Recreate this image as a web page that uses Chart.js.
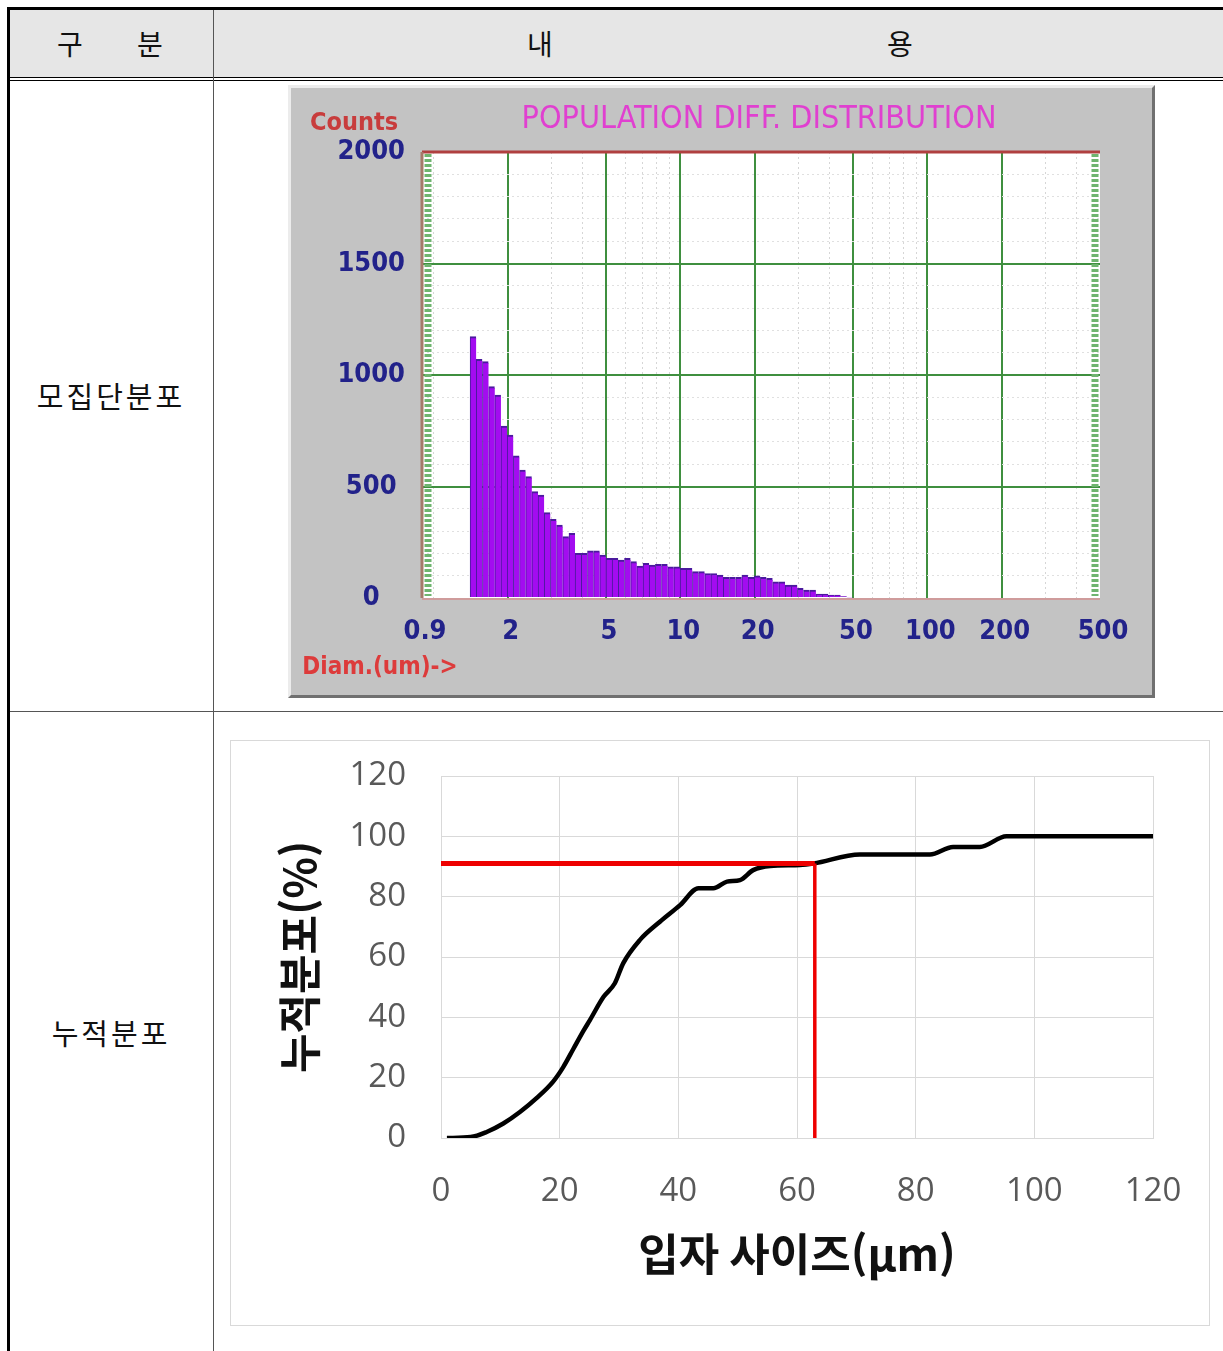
<!DOCTYPE html>
<html lang="ko">
<head>
<meta charset="UTF-8">
<title>입자 크기 분포</title>
<script src="https://cdn.jsdelivr.net/npm/chart.js@4"></script>
<style>
  body { margin: 0; width: 1223px; height: 1351px; overflow: hidden; background: #fff; position: relative; font-family: 'Noto Sans CJK KR', sans-serif; }
  .ln { position: absolute; background: #000; }
  .txt { position: absolute; transform: translate(-50%, -50%); font-size: 28px; color: #111; white-space: nowrap; }
  .narrow { position: absolute; transform: translate(-50%, -50%); white-space: nowrap; font-family: 'Liberation Sans Narrow', 'DejaVu Sans Condensed', sans-serif; z-index: 2; }
  #panel1 { position: absolute; left: 288px; top: 85px; width: 861px; height: 607px; background: #c3c3c3; border: 3px solid; border-color: #ececec #707070 #707070 #ececec; }
  #box2 { position: absolute; left: 230px; top: 740px; width: 978px; height: 584px; border: 1px solid #d9d9d9; }
</style>
</head>
<body>
  <!-- table frame -->
  <div class="ln" style="left:10px;top:10px;width:1213px;height:67px;background:#e6e6e6"></div>
  <div class="ln" style="left:7px;top:7px;width:3px;height:1344px"></div>
  <div class="ln" style="left:7px;top:7px;width:1216px;height:3px"></div>
  <div class="ln" style="left:10px;top:77px;width:1213px;height:1px"></div>
  <div class="ln" style="left:10px;top:80px;width:1213px;height:1px"></div>
  <div class="ln" style="left:213px;top:10px;width:1px;height:1341px;background:#555"></div>
  <div class="ln" style="left:10px;top:711px;width:1213px;height:1px;background:#555"></div>

  <div class="txt" style="left:70px;top:43px">구</div>
  <div class="txt" style="left:150px;top:43px">분</div>
  <div class="txt" style="left:540px;top:43px">내</div>
  <div class="txt" style="left:900px;top:43px">용</div>
  <div class="txt" style="left:111px;top:395px;font-size:29px;letter-spacing:3px">모집단분포</div>
  <div class="txt" style="left:111px;top:1032px;font-size:29px;letter-spacing:3px">누적분포</div>

  <div id="panel1"><canvas id="popChart"></canvas></div>
  <div class="narrow" style="left:759px;top:117px;font-size:32px;color:#e040d0">POPULATION DIFF. DISTRIBUTION</div>
  <div class="narrow" style="left:354px;top:121px;font-size:25px;font-weight:bold;color:#c83c3c">Counts</div>
  <div class="narrow" style="left:380px;top:666px;font-size:24px;font-weight:bold;color:#dd3b3b">Diam.(um)-&gt;</div>

  <div id="box2"><canvas id="cumChart"></canvas></div>

<script>
// 모집단분포 (population differential distribution)
const diameters = [1.45, 1.536, 1.627, 1.724, 1.826, 1.934, 2.049, 2.170, 2.299, 2.435,
  2.579, 2.732, 2.894, 3.065, 3.247, 3.440, 3.643, 3.859, 4.088, 4.331,
  4.585, 4.857, 5.145, 5.450, 5.773, 6.115, 6.478, 6.862, 7.269, 7.700,
  8.154, 8.637, 9.149, 9.692, 10.27, 10.87, 11.52, 12.20, 12.93, 13.69,
  14.50, 15.36, 16.27, 17.24, 18.26, 19.34, 20.49, 21.70, 22.99, 24.35,
  25.79, 27.32, 28.94, 30.65, 32.47, 34.40, 36.43, 38.59, 40.88, 43.31,
  45.85, 48.57];
const counts = [1172, 1070, 1060, 948, 910, 771, 731, 637, 574, 544,
  477, 462, 383, 353, 327, 275, 290, 200, 200, 212,
  212, 193, 178, 178, 170, 178, 163, 143, 155, 148,
  151, 151, 140, 140, 133, 133, 118, 118, 110, 110,
  103, 93, 93, 93, 103, 93, 99, 93, 88, 73,
  73, 58, 58, 43, 36, 36, 18, 18, 13, 13,
  6, 3];
const xTickLabels = [0.9, 2, 5, 10, 20, 50, 100, 200, 500];
const xMajorGrid = [2, 5, 10, 20, 50, 100, 200];
const xGridValues = [0.9, 1, 2, 3, 4, 5, 6, 7, 8, 9, 10, 20, 30, 40, 50, 60, 70, 80, 90, 100, 200, 300, 400, 500];
const countMax = 2000;

// 누적분포 (cumulative distribution)
const sizeUm = [1, 5, 7.7, 10.5, 13.3, 16.1, 18.9, 20.6, 22.3, 24, 25.1, 27.4, 29.3, 30.7, 33.5, 36.9,
  40.3, 43.4, 45.9, 48.2, 50.4, 52.6, 55.5, 60.5, 62.8, 70.6, 82.4, 86.3, 90.8, 95.3, 120];
const cumPct = [0, 0.3, 2, 4.8, 8.6, 13.2, 18.7, 23.5, 29.5, 35.5, 39.1, 46.8, 51.3, 57.9, 65.6, 71.7,
  77.2, 82.8, 82.8, 85, 85.5, 88.8, 90.2, 90.5, 91, 94, 94, 96.5, 96.5, 100, 100];
const d90Size = 63;
const d90Pct = 91;

const narrowFont = "'Liberation Sans Narrow', 'DejaVu Sans Condensed', sans-serif";

// white plot area, edge strips and frame lines of the analyser screen
const plotFrame = {
  id: 'plotFrame',
  beforeDraw(chart) {
    const { ctx, chartArea: a } = chart;
    ctx.save();
    ctx.fillStyle = '#ffffff';
    ctx.fillRect(a.left, a.top, a.right - a.left, a.bottom - a.top);
    ctx.restore();
  },
  beforeDatasetsDraw(chart) {
    const { ctx, chartArea: a } = chart;
    ctx.save();
    ctx.strokeStyle = '#6fb46f';
    ctx.lineWidth = 7;
    ctx.setLineDash([3, 2]);
    [a.left + 6, a.right - 5].forEach(x => {
      ctx.beginPath(); ctx.moveTo(x, a.top + 2); ctx.lineTo(x, a.bottom - 2); ctx.stroke();
    });
    ctx.setLineDash([]);
    ctx.lineWidth = 3;
    ctx.strokeStyle = '#b04040';
    ctx.beginPath(); ctx.moveTo(a.left, a.top); ctx.lineTo(a.right, a.top); ctx.stroke();
    ctx.strokeStyle = '#a57a6a';
    ctx.beginPath(); ctx.moveTo(a.left, a.top); ctx.lineTo(a.left, a.bottom); ctx.stroke();
    ctx.lineWidth = 2;
    ctx.strokeStyle = '#cf9c9c';
    ctx.beginPath(); ctx.moveTo(a.left, a.bottom + 1); ctx.lineTo(a.right, a.bottom + 1); ctx.stroke();
    ctx.restore();
  }
};

new Chart(document.getElementById('popChart'), {
  type: 'bar',
  data: {
    datasets: [{
      data: diameters.map((d, i) => ({ x: d, y: counts[i] })),
      backgroundColor: '#a30cf0',
      borderColor: '#4b1a9e',
      borderWidth: { top: 2, left: 1, right: 0, bottom: 0 },
      barPercentage: 1,
      categoryPercentage: 1
    }]
  },
  options: {
    responsive: true,
    maintainAspectRatio: false,
    animation: false,
    layout: { padding: { left: 31, right: 52, top: 64, bottom: 0 } },
    plugins: { legend: { display: false }, tooltip: { enabled: false } },
    scales: {
      x: {
        type: 'logarithmic',
        min: 0.9,
        max: 500,
        offset: false,
        afterBuildTicks: s => { s.ticks = xGridValues.map(v => ({ value: v })); },
        afterFit: s => { s.height = 97; },
        border: { display: false, dash: c => (c.tick && !xMajorGrid.includes(c.tick.value)) ? [2, 3] : [] },
        grid: {
          offset: false,
          drawTicks: false,
          color: c => {
            const v = c.tick.value;
            if (v === 0.9 || v === 500) return 'rgba(0,0,0,0)';
            return xMajorGrid.includes(v) ? '#3f8f3f' : '#d6d6d6';
          },
          lineWidth: c => xMajorGrid.includes(c.tick.value) ? 2 : 1
        },
        ticks: {
          autoSkip: false,
          maxRotation: 0,
          padding: 18,
          labelOffset: 3,
          color: '#22228a',
          font: { family: narrowFont, size: 27, weight: 'bold' },
          callback: v => xTickLabels.includes(v) ? String(v) : ''
        }
      },
      y: {
        min: 0,
        max: countMax,
        afterFit: s => { s.width = 100; },
        border: { display: false, dash: c => (c.tick && c.tick.value % 500 !== 0) ? [2, 3] : [] },
        grid: {
          drawTicks: false,
          color: c => {
            const v = c.tick.value;
            if (v === 0 || v === countMax) return 'rgba(0,0,0,0)';
            return v % 500 === 0 ? '#3f8f3f' : '#e0e0e0';
          },
          lineWidth: c => c.tick.value % 500 === 0 ? 2 : 1
        },
        ticks: {
          stepSize: 100,
          autoSkip: false,
          padding: 17,
          crossAlign: 'center',
          color: '#22228a',
          font: { family: narrowFont, size: 27, weight: 'bold' },
          callback: v => v % 500 === 0 ? String(v) : ''
        }
      }
    }
  },
  plugins: [plotFrame]
});

new Chart(document.getElementById('cumChart'), {
  type: 'line',
  data: {
    datasets: [
      {
        data: [{ x: 0, y: d90Pct }, { x: d90Size, y: d90Pct }],
        borderColor: '#ee0000',
        borderWidth: 5,
        pointRadius: 0
      },
      {
        data: [{ x: d90Size, y: d90Pct }, { x: d90Size, y: 0 }],
        borderColor: '#ee0000',
        borderWidth: 3.5,
        pointRadius: 0
      },
      {
        data: sizeUm.map((s, i) => ({ x: s, y: cumPct[i] })),
        borderColor: '#000000',
        borderWidth: 4.5,
        pointRadius: 0,
        cubicInterpolationMode: 'monotone'
      }
    ]
  },
  options: {
    responsive: true,
    maintainAspectRatio: false,
    animation: false,
    layout: { padding: { left: 0, right: 56, top: 35, bottom: 0 } },
    plugins: { legend: { display: false }, tooltip: { enabled: false } },
    scales: {
      x: {
        type: 'linear',
        min: 0,
        max: 120,
        afterFit: s => { s.height = 187; },
        border: { color: '#d9d9d9' },
        // transparent tick marks keep the label gap without adding layout padding
        grid: { color: '#d9d9d9', drawTicks: true, tickLength: 34, tickColor: 'rgba(0,0,0,0)' },
        ticks: {
          stepSize: 20,
          padding: 0,
          color: '#595959',
          font: { family: "'Open Sans', sans-serif", size: 33 }
        },
        title: {
          display: true,
          text: '입자 사이즈(μm)',
          color: '#111',
          padding: { top: 0, bottom: 44 },
          font: { family: "'Noto Sans CJK KR', sans-serif", size: 44, weight: 'bold' }
        }
      },
      y: {
        min: 0,
        max: 120,
        afterFit: s => { s.width = 210; },
        border: { display: false },
        grid: { color: '#d9d9d9', drawTicks: true, tickLength: 35, tickColor: 'rgba(0,0,0,0)' },
        ticks: {
          stepSize: 20,
          padding: 0,
          color: '#595959',
          font: { family: "'Open Sans', sans-serif", size: 33 }
        },
        title: {
          display: true,
          text: '누적분포(%)',
          color: '#111',
          padding: { top: 43, bottom: 0 },
          font: { family: "'Noto Sans CJK KR', sans-serif", size: 43, weight: 'bold' }
        }
      }
    }
  }
});
</script>
</body>
</html>
